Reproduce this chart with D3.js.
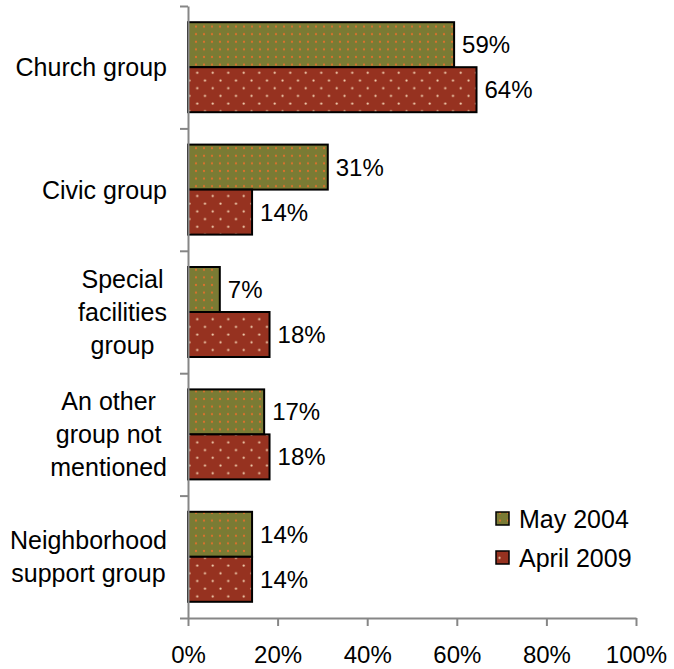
<!DOCTYPE html>
<html>
<head>
<meta charset="utf-8">
<script src="https://cdn.jsdelivr.net/npm/d3@7"></script>
<style>
  html, body { margin: 0; padding: 0; background: #fff; }
  svg { display: block; font-family: "Liberation Sans", Arial, sans-serif; }
</style>
</head>
<body>
<svg id="chart" width="674" height="669"></svg>
<script>
// ---- data ----
const categories = [
  ["Church group"],
  ["Civic group"],
  ["Special", "facilities", "group"],
  ["An other", "group not", "mentioned"],
  ["Neighborhood", "support group"]
];
const seriesNames = ["May 2004", "April 2009"];
const may2004 = [59.4, 31.2, 7.1, 17.0, 14.3];
const april2009 = [64.4, 14.3, 18.2, 18.2, 14.3];
const xTicks = [0, 20, 40, 60, 80, 100];

// ---- layout ----
const svg = d3.select("#chart");
const plotLeft = 188, plotRight = 636, plotTop = 6, plotBottom = 618;
const green = "#7a7b34", red = "#963220";
const catFont = 25, valFont = 24, tickFont = 24, legFont = 25;

const defs = svg.append("defs");
const pg = defs.append("pattern").attr("id", "pGreen").attr("patternUnits", "userSpaceOnUse")
  .attr("width", 8).attr("height", 7.6);
pg.append("rect").attr("width", 8).attr("height", 7.6).attr("fill", green);
pg.append("circle").attr("cx", 4).attr("cy", 3.8).attr("r", 1.1).attr("fill", "#e0702c");

const pr = defs.append("pattern").attr("id", "pRed").attr("patternUnits", "userSpaceOnUse")
  .attr("width", 15.5).attr("height", 15.4);
pr.append("rect").attr("width", 15.5).attr("height", 15.4).attr("fill", red);
pr.append("circle").attr("cx", 3.5).attr("cy", 3.5).attr("r", 1.1).attr("fill", "#f3d3b3");
pr.append("circle").attr("cx", 11.25).attr("cy", 11.2).attr("r", 1.1).attr("fill", "#f3d3b3");

const fills = ["url(#pGreen)", "url(#pRed)"];

const x = d3.scaleLinear().domain([0, 100]).range([plotLeft, plotRight]);
const catKeys = categories.map(d => d.join(" "));
const y = d3.scaleBand().domain(catKeys).range([plotTop, plotBottom]).padding(0);
const yInner = d3.scaleBand().domain(seriesNames).range([0, y.bandwidth()])
  .paddingInner(0).paddingOuter(0.36);
const yIdx = d3.scaleLinear().domain([0, categories.length]).range([plotTop, plotBottom]);

// bars
const rows = catKeys.map((k, i) => ({ key: k, vals: [may2004[i], april2009[i]] }));
const g = svg.append("g");
rows.forEach(r => {
  r.vals.forEach((v, j) => {
    const yy = y(r.key) + yInner(seriesNames[j]);
    g.append("rect")
      .attr("x", x(0)).attr("y", yy)
      .attr("width", x(v) - x(0)).attr("height", yInner.bandwidth())
      .attr("fill", fills[j]).attr("stroke", "#000").attr("stroke-width", 2);
    g.append("text")
      .attr("x", x(v) + 8).attr("y", yy + yInner.bandwidth() / 2 + 8.5)
      .attr("font-size", valFont).attr("fill", "#000")
      .text(d3.format(".0f")(v) + "%");
  });
});

// y axis (category boundaries)
const yAxis = svg.append("g").attr("transform", `translate(${plotLeft},0)`)
  .call(d3.axisLeft(yIdx).ticks(categories.length).tickSize(8).tickSizeOuter(0).tickFormat(""));
yAxis.selectAll("path, line").attr("stroke", "#868686").attr("stroke-width", 2);

// x axis
const xAxis = svg.append("g").attr("transform", `translate(0,${plotBottom})`)
  .call(d3.axisBottom(x).tickValues(xTicks).tickSize(8).tickSizeOuter(0).tickFormat(d => d + "%"));
xAxis.selectAll("path, line").attr("stroke", "#868686").attr("stroke-width", 2);
xAxis.selectAll("text").attr("font-size", tickFont).attr("font-family", "Liberation Sans, Arial, sans-serif")
  .attr("fill", "#000").attr("dy", 0).attr("y", 45);

// category labels
const labelRight = 167, lineH = 33;
categories.forEach((lines, i) => {
  const cy = y(catKeys[i]) + y.bandwidth() / 2;
  const tg = svg.append("g");
  const texts = lines.map((ln, k) => tg.append("text")
    .attr("font-size", catFont).attr("text-anchor", "middle")
    .attr("y", cy + (k - (lines.length - 1) / 2) * lineH + 9)
    .text(ln));
  const maxW = d3.max(texts, t => t.node().getComputedTextLength());
  texts.forEach(t => t.attr("x", labelRight - maxW / 2));
});

// legend
const legY = [512, 551];
seriesNames.forEach((s, j) => {
  svg.append("rect").attr("x", 496).attr("y", legY[j]).attr("width", 13).attr("height", 13)
    .attr("fill", fills[j]).attr("stroke", "#000").attr("stroke-width", 1.5);
  svg.append("text").attr("x", 519).attr("y", legY[j] + 15.5).attr("font-size", legFont)
    .text(s);
});
</script>
</body>
</html>
